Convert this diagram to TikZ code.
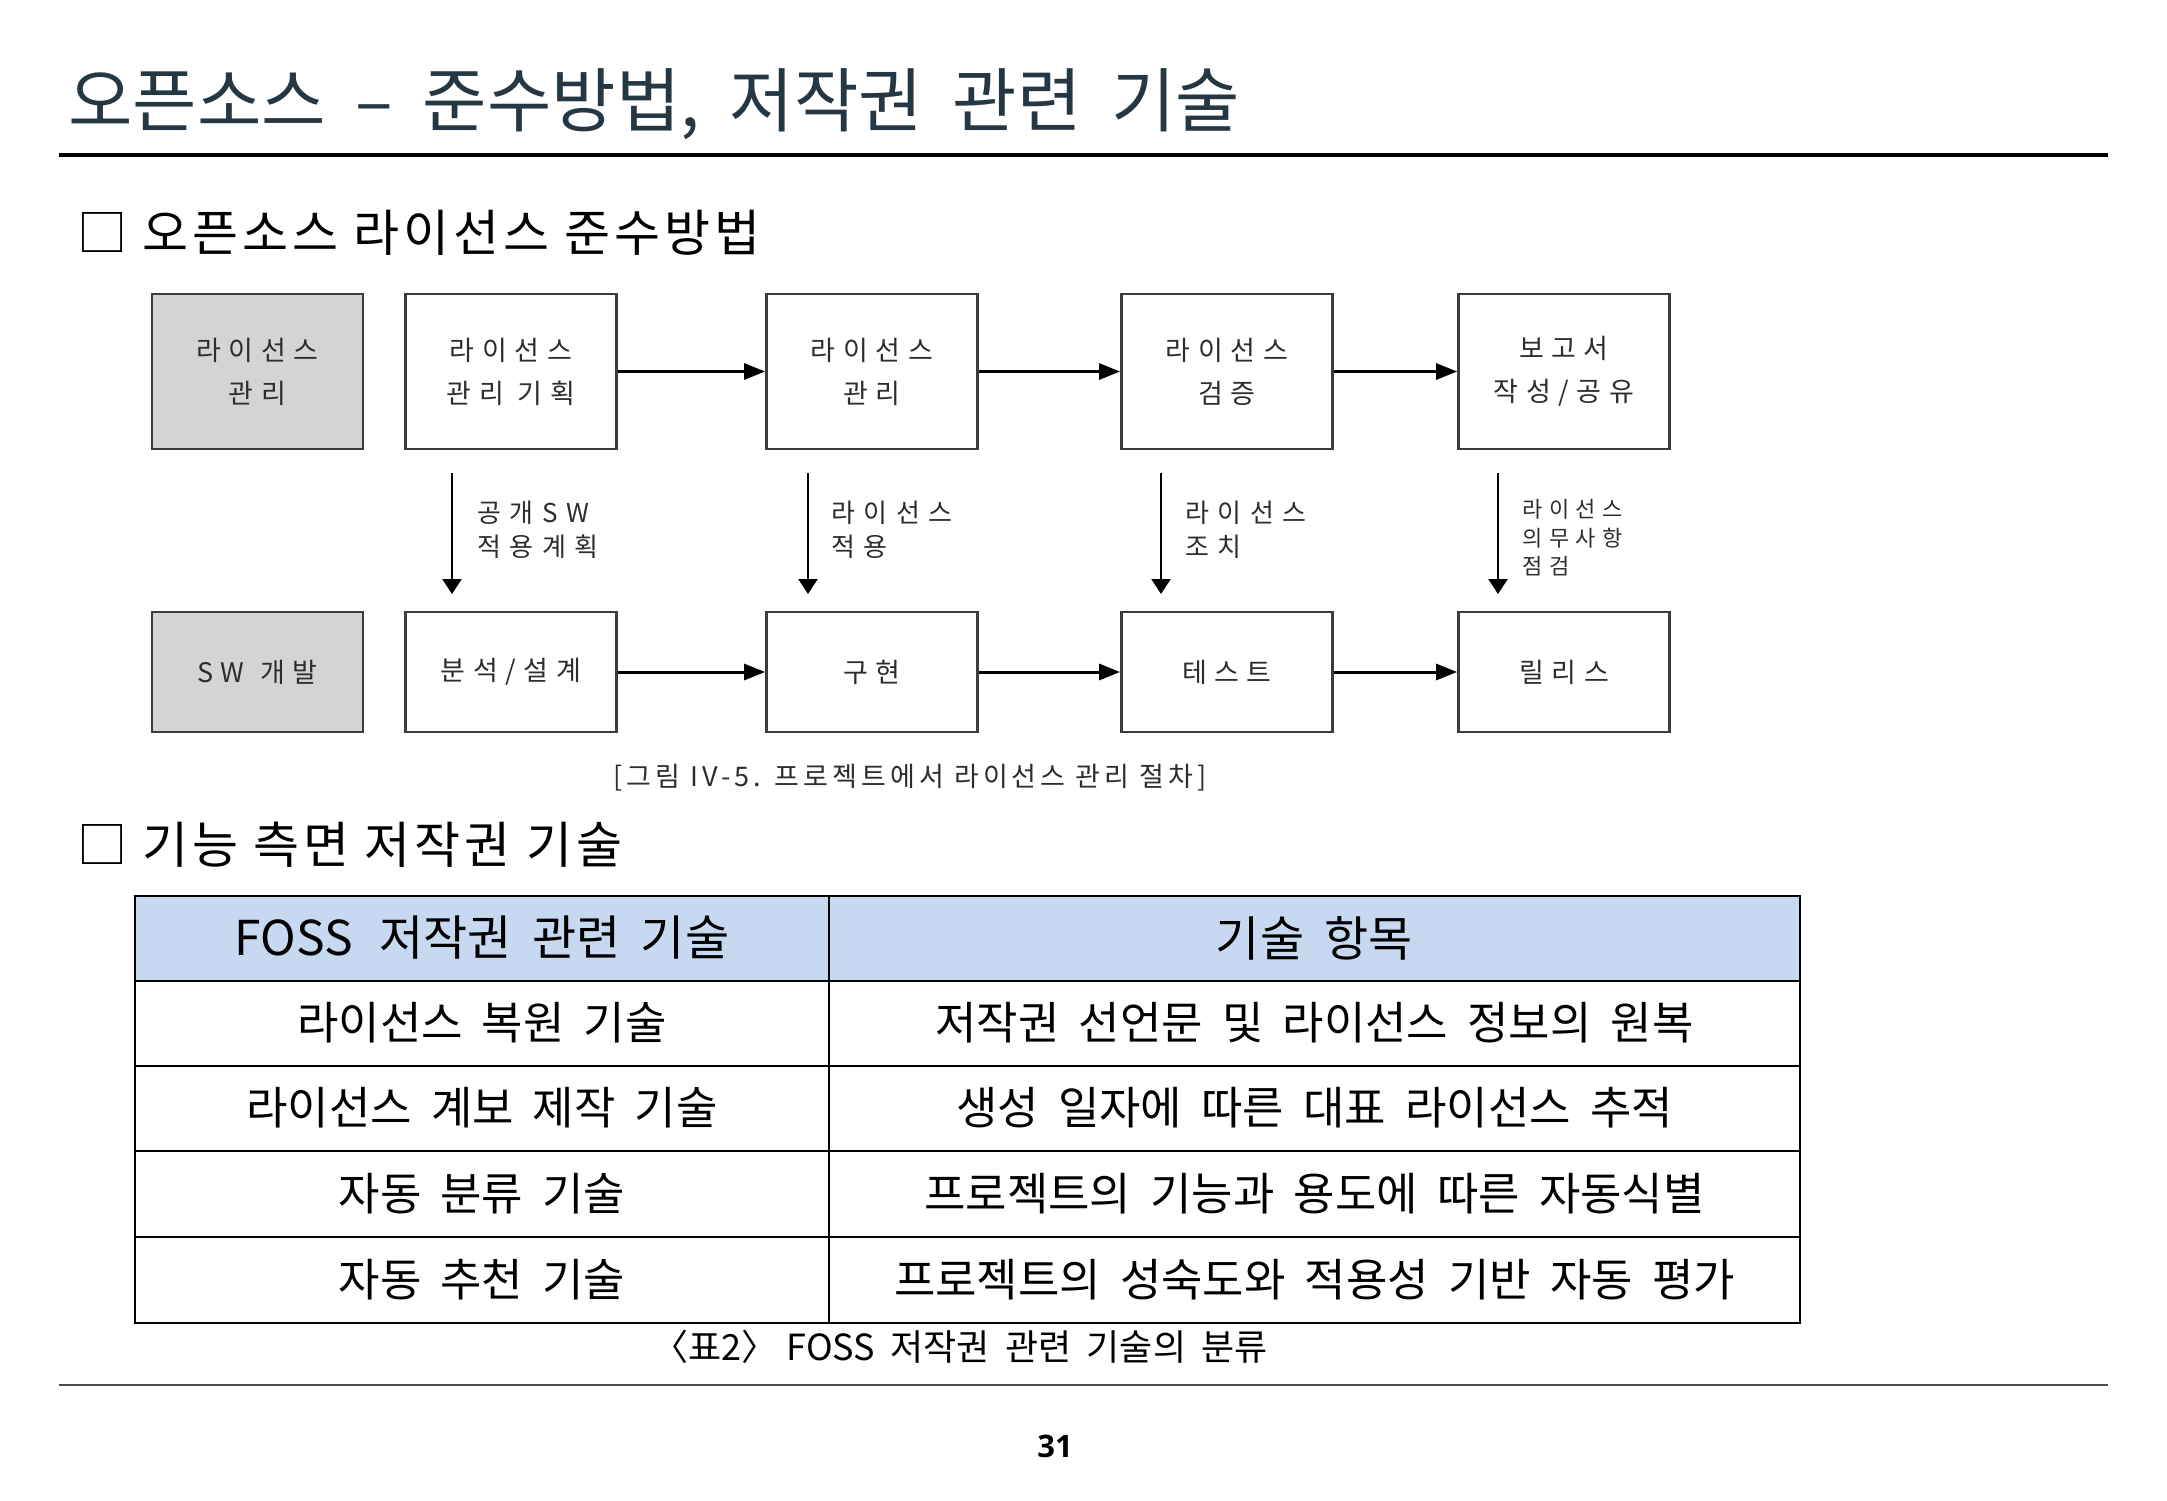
\documentclass[tikz,border=0pt]{standalone}
\usepackage{fontspec}
\setmainfont{Noto Sans CJK KR}
\newfontfamily\numfont{Open Sans}
\newfontfamily\tblfont[WordSpace=2.2]{Noto Sans CJK KR}
\newfontfamily\titlefont[WordSpace=1.9]{Noto Sans CJK KR}
\newfontfamily\headfont[WordSpace=1.0,LetterSpace=8]{Noto Sans CJK KR}
\usetikzlibrary{arrows.meta}
\definecolor{titlecol}{RGB}{38,55,68}
\definecolor{boxgray}{RGB}{212,212,212}
\definecolor{boxtext}{RGB}{45,45,45}
\definecolor{hdrblue}{RGB}{198,217,240}
\definecolor{edgecol}{RGB}{60,60,60}
\newcommand\boxfnt{\fontsize{27pt}{43pt}\selectfont\addfontfeature{LetterSpace=28}}
\newcommand\lblfnt{\fontsize{26pt}{34pt}\selectfont\addfontfeature{LetterSpace=33}}
\newcommand\lblsmall{\fontsize{22pt}{28.5pt}\selectfont\addfontfeature{LetterSpace=30}}
\newcommand\cellfnt{\tblfont\fontsize{45pt}{50pt}\selectfont}
\tikzset{
  flowbox/.style={draw=edgecol, line width=2.8pt, minimum width=211pt, inner sep=0pt,
    align=center, font=\boxfnt, text=boxtext},
  toprow/.style={flowbox, minimum height=155pt},
  botrow/.style={flowbox, minimum height=120pt},
  shaded/.style={fill=boxgray},
  harrow/.style={line width=3pt, -{Triangle[length=21pt,width=16pt]}},
  varrow/.style={line width=2.3pt, -{Triangle[length=15pt,width=19pt]}},
  arrlabel/.style={anchor=west, align=left, inner sep=0pt, font=\lblfnt, text=boxtext},
  cell/.style={inner sep=0pt, font=\cellfnt},
  tline/.style={line width=2.2pt},
  heading/.style={anchor=base west, inner sep=0pt, font=\headfont\fontsize{50pt}{56pt}\selectfont},
}
\begin{document}
\begin{tikzpicture}[x=1pt,y=-1pt]
\useasboundingbox[fill=white] (0,0) rectangle (2167,1500);

% title
\node[anchor=base west, inner sep=0pt, font=\titlefont\fontsize{70pt}{80pt}\selectfont, text=titlecol]
  (title) at (68,126) {오픈소스 – 준수방법, 저작권 관련 기술};
\draw[line width=4.5pt] (59,155) -- (2108,155);

% section 1
\node[heading] (sec1) at (77,251) {□ 오픈소스 라이선스 준수방법};

% flow diagram - top row
\node[toprow, shaded] (a1) at (257.5,371.5) {라이선스\\관리};
\node[toprow] (a2) at (511,371.5) {라이선스\\관리\hspace{14pt}기획};
\node[toprow] (a3) at (872,371.5) {라이선스\\관리};
\node[toprow] (a4) at (1227,371.5) {라이선스\\검증};
\node[toprow] (a5) at (1564,371.5) {보고서\\작성/공유};

% bottom row
\node[botrow, shaded] (b1) at (257.5,672) {SW\hspace{16pt}개발};
\node[botrow] (b2) at (511,672) {분석/설계};
\node[botrow] (b3) at (872,672) {구현};
\node[botrow] (b4) at (1227,672) {테스트};
\node[botrow] (b5) at (1564,672) {릴리스};

% horizontal arrows
\draw[harrow] (a2.east) -- (a3.west);
\draw[harrow] (a3.east) -- (a4.west);
\draw[harrow] (a4.east) -- (a5.west);
\draw[harrow] (b2.east) -- (b3.west);
\draw[harrow] (b3.east) -- (b4.west);
\draw[harrow] (b4.east) -- (b5.west);

% vertical arrows
\coordinate (v1s) at (452,473); \coordinate (v1e) at (452,594);
\coordinate (v2s) at (808,473); \coordinate (v2e) at (808,594);
\coordinate (v3s) at (1161,473); \coordinate (v3e) at (1161,594);
\coordinate (v4s) at (1498,473); \coordinate (v4e) at (1498,594);
\draw[varrow] (v1s) -- (v1e);
\draw[varrow] (v2s) -- (v2e);
\draw[varrow] (v3s) -- (v3e);
\draw[varrow] (v4s) -- (v4e);

\node[arrlabel] (l1) at (477,530) {공개SW\\적용계획};
\node[arrlabel] (l2) at (831,530) {라이선스\\적용};
\node[arrlabel] (l3) at (1185,530) {라이선스\\조치};
\node[arrlabel, font=\lblsmall] (l4) at (1522,538) {라이선스\\의무사항\\점검};

% caption
\node[inner sep=0pt, text=boxtext, font=\fontsize{27pt}{30pt}\selectfont\addfontfeature{LetterSpace=15}]
  (cap1) at (910,778) {[그림 IV-5. 프로젝트에서 라이선스 관리 절차]};

% section 2
\node[heading] (sec2) at (77,863) {□ 기능 측면 저작권 기술};

% table
\fill[hdrblue] (135,896) rectangle (1800,981);
\draw[tline] (135,896) rectangle (1800,1323);
\draw[tline] (829,896) -- (829,1323);
\draw[tline] (135,981) -- (1800,981);
\draw[tline] (135,1066) -- (1800,1066);
\draw[line width=1.6pt] (135,1151) -- (1800,1151);
\draw[tline] (135,1237) -- (1800,1237);

\node[cell, font=\tblfont\fontsize{48pt}{52pt}\selectfont] (h1) at (482,938) {FOSS\hspace{6pt} 저작권 관련 기술};
\node[cell, font=\tblfont\fontsize{48pt}{52pt}\selectfont] (h2) at (1314.5,938) {기술 항목};
\node[cell] (r1a) at (482,1023) {라이선스 복원 기술};
\node[cell] (r1b) at (1314.5,1023) {저작권 선언문 및 라이선스 정보의 원복};
\node[cell] (r2a) at (482,1108) {라이선스 계보 제작 기술};
\node[cell] (r2b) at (1314.5,1108) {생성 일자에 따른 대표 라이선스 추적};
\node[cell] (r3a) at (482,1194) {자동 분류 기술};
\node[cell] (r3b) at (1314.5,1194) {프로젝트의 기능과 용도에 따른 자동식별};
\node[cell] (r4a) at (482,1280) {자동 추천 기술};
\node[cell] (r4b) at (1314.5,1280) {프로젝트의 성숙도와 적용성 기반 자동 평가};

\node[inner sep=0pt, font=\tblfont\fontsize{36pt}{40pt}\selectfont]
  (cap2) at (960,1347) {〈표2〉\hspace{-6pt} FOSS 저작권 관련 기술의 분류};

% footer
\draw[line width=2pt, black!70] (59,1385) -- (2108,1385);
\node[inner sep=0pt, font=\numfont\bfseries\fontsize{31pt}{36pt}\selectfont] (pg) at (1055,1446) {31};
\end{tikzpicture}
\end{document}
